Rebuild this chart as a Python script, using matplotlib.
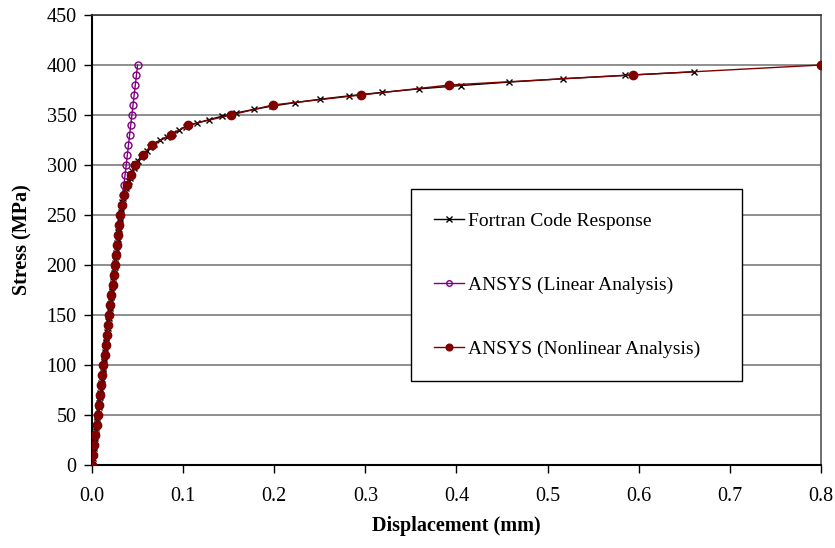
import matplotlib
matplotlib.use("Agg")
import matplotlib.pyplot as plt

plt.rcParams['font.family'] = ['Liberation Serif', 'DejaVu Serif']

# Fortran code response (stress in MPa, displacement in mm)
fortran_stress = [
    0, 3.4, 6.8, 10.3, 13.7, 17.1, 20.5, 23.9, 27.4, 30.8, 34.2, 37.6, 41.0, 44.4,
    47.9, 51.3, 54.7, 58.1, 61.5, 65.0, 68.4, 71.8, 75.2, 78.6, 82.1, 85.5, 88.9,
    92.3, 95.7, 99.1, 102.6, 106.0, 109.4, 112.8, 116.2, 119.7, 123.1, 126.5, 129.9,
    133.3, 136.8, 140.2, 143.6, 147.0, 150.4, 153.8, 157.3, 160.7, 164.1, 167.5,
    170.9, 174.4, 177.8, 181.2, 184.6, 188.0, 191.5, 194.9, 198.3, 201.7, 205.1,
    208.5, 212.0, 215.4, 218.8, 222.2, 225.6, 229.1, 232.5, 235.9, 239.3, 242.7,
    246.2, 249.6, 253.0, 256.4, 259.8, 263.2, 266.7, 270.1, 273.5, 276.9, 280.3,
    283.8, 287.2, 290.6, 294.0, 297.4, 300.9, 304.3, 307.7, 311.1, 314.5, 317.9,
    321.4, 324.8, 328.2, 331.6, 335.0, 338.5, 341.9, 345.3, 348.7, 352.1, 355.6,
    359.0, 362.4, 365.8, 369.2, 372.6, 376.1, 379.5, 382.9, 386.3, 389.7, 393.2,
]
fortran_disp = [
    0, 0.00043, 0.00085, 0.00128, 0.00171, 0.00214, 0.00256, 0.00299, 0.00342,
    0.00385, 0.00427, 0.00470, 0.00513, 0.00556, 0.00598, 0.00641, 0.00684, 0.00726,
    0.00769, 0.00812, 0.00855, 0.00897, 0.00940, 0.00983, 0.01026, 0.01068, 0.01111,
    0.01154, 0.01197, 0.01239, 0.01282, 0.01325, 0.01368, 0.01410, 0.01453, 0.01496,
    0.01538, 0.01581, 0.01624, 0.01667, 0.01709, 0.01752, 0.01795, 0.01838, 0.01880,
    0.01923, 0.01966, 0.02009, 0.02051, 0.02094, 0.02137, 0.02179, 0.02222, 0.02265,
    0.02308, 0.02350, 0.02393, 0.02436, 0.02479, 0.02521, 0.02564, 0.02607, 0.02650,
    0.02692, 0.02735, 0.02778, 0.02821, 0.02863, 0.02906, 0.02949, 0.02991, 0.03034,
    0.03077, 0.03120, 0.03162, 0.03205, 0.03248, 0.0330, 0.0338, 0.0351, 0.0363,
    0.0375, 0.0388, 0.0401, 0.0413, 0.0427, 0.0441, 0.0456, 0.0473, 0.0500, 0.0535,
    0.0572, 0.0603, 0.0634, 0.0676, 0.0748, 0.0822, 0.0893, 0.0960, 0.1028, 0.1149,
    0.1281, 0.1424, 0.1585, 0.1775, 0.1980, 0.2230, 0.2504, 0.2823, 0.3178, 0.3584,
    0.4051, 0.4573, 0.5169, 0.5847, 0.6605,
]

# ANSYS linear analysis
linear_stress = [
    0, 10, 20, 30, 40, 50, 60, 70, 80, 90, 100, 110, 120, 130, 140, 150, 160, 170,
    180, 190, 200, 210, 220, 230, 240, 250, 260, 270, 280, 290, 300, 310, 320, 330,
    340, 350, 360, 370, 380, 390, 400,
]
linear_disp = [
    0, 0.00125, 0.0025, 0.00375, 0.005, 0.00625, 0.0075, 0.00875, 0.01, 0.01125,
    0.0125, 0.01375, 0.015, 0.01625, 0.0175, 0.01875, 0.02, 0.02125, 0.0225, 0.02375,
    0.025, 0.02625, 0.0275, 0.02875, 0.03, 0.03125, 0.0325, 0.03375, 0.035, 0.03625,
    0.0375, 0.03875, 0.04, 0.04125, 0.0425, 0.04375, 0.045, 0.04625, 0.0475, 0.04875,
    0.05,
]

# ANSYS nonlinear analysis
nonlinear_stress = [
    0, 10, 20, 30, 40, 50, 60, 70, 80, 90, 100, 110, 120, 130, 140, 150, 160, 170,
    180, 190, 200, 210, 220, 230, 240, 250, 260, 270, 280, 290, 300, 310, 320, 330,
    340, 350, 360, 370, 380, 390, 400,
]
nonlinear_disp = [
    0, 0.00125, 0.0025, 0.00375, 0.005, 0.00625, 0.0075, 0.00875, 0.01, 0.01125,
    0.0125, 0.01375, 0.015, 0.01625, 0.0175, 0.01875, 0.02, 0.02125, 0.0225, 0.02375,
    0.025, 0.02625, 0.0275, 0.02875, 0.03, 0.03125, 0.0328, 0.0351, 0.0387, 0.0424,
    0.0467, 0.0563, 0.0654, 0.0863, 0.1057, 0.1525, 0.1982, 0.2952, 0.3921, 0.5933,
    0.8,
]

fig = plt.figure(figsize=(8.35, 5.48), dpi=100)
ax = fig.add_axes([0.1102, 0.1515, 0.8730, 0.8211])

ax.plot(fortran_disp, fortran_stress, color='black', lw=1.0, marker='x',
        ms=5, mew=1.0, label='Fortran Code Response', zorder=3)
ax.plot(linear_disp, linear_stress, color='#800080', lw=1.0, marker='o',
        ms=5, mfc='none', mec='#800080', mew=1.0,
        label='ANSYS (Linear Analysis)', zorder=4)
ax.plot(nonlinear_disp, nonlinear_stress, color='#800000', lw=1.0, marker='o',
        ms=6, mfc='#800000', mec='#800000', label='ANSYS (Nonlinear Analysis)',
        zorder=5)

ax.set_xlim(0, 0.8)
ax.set_ylim(0, 450)
ax.set_xticks([0, 0.1, 0.2, 0.3, 0.4, 0.5, 0.6, 0.7, 0.8])
ax.set_xticklabels(['0.0', '0.1', '0.2', '0.3', '0.4', '0.5', '0.6', '0.7', '0.8'])
ax.set_yticks(range(0, 451, 50))
ax.yaxis.grid(True, color='#868686', lw=1.3)
ax.set_axisbelow(True)
ax.tick_params(axis='both', direction='out', length=6, width=1.0,
               labelsize=14.5, pad=5)
ax.tick_params(axis='x', pad=10)

for side in ['left', 'bottom']:
    ax.spines[side].set_color('black')
    ax.spines[side].set_linewidth(1.5)
ax.spines['top'].set_color('#333333')
ax.spines['right'].set_color('#555555')
ax.spines['top'].set_linewidth(1.2)
ax.spines['right'].set_linewidth(1.2)

ax.set_xlabel('Displacement (mm)', fontsize=14.5, fontweight='bold', labelpad=7)
ax.set_ylabel('Stress (MPa)', fontsize=14.5, fontweight='bold', labelpad=10)

leg = ax.legend(loc='upper left', bbox_to_anchor=(411 / 835, 1 - 189 / 548, 331 / 835, 0),
                bbox_transform=fig.transFigure, mode='expand', fontsize=14,
                frameon=True, fancybox=False, shadow=False, handlelength=1.5,
                handletextpad=0.25, labelspacing=2.38, borderpad=1.2,
                borderaxespad=0, markerscale=0.8)
leg.get_frame().set_edgecolor('black')
leg.get_frame().set_linewidth(1.0)
leg.get_frame().set_alpha(1)

fig.savefig('out.png', dpi=100)
